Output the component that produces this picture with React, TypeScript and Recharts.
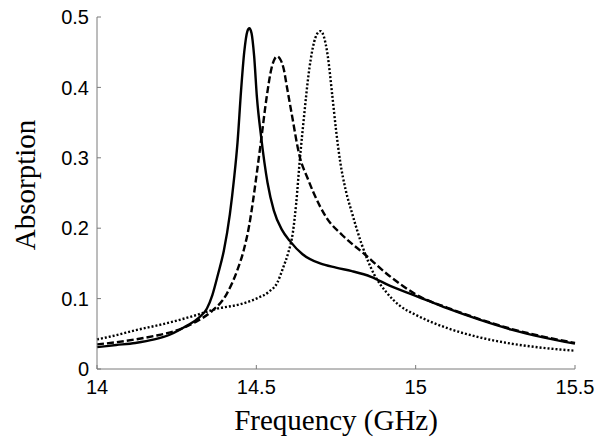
import { LineChart, Line, XAxis, YAxis, Label } from "recharts";

type Pt = { f: number; a: number };

const xTicks = [14, 14.5, 15, 15.5];
const yTicks = [0, 0.1, 0.2, 0.3, 0.4, 0.5];

// solid curve (frequency GHz, absorption)
const solidF = [14.0, 14.06, 14.12, 14.18, 14.23, 14.28, 14.32, 14.345, 14.362, 14.38, 14.398, 14.417, 14.43, 14.441, 14.452, 14.462, 14.472, 14.478, 14.485, 14.493, 14.502, 14.515, 14.535, 14.555, 14.58, 14.605, 14.645, 14.7, 14.75, 14.8, 14.86, 14.92, 15.0, 15.1, 15.2, 15.3, 15.4, 15.5];
const solidA = [0.031, 0.034, 0.037, 0.042, 0.049, 0.061, 0.073, 0.086, 0.105, 0.135, 0.168, 0.22, 0.27, 0.322, 0.395, 0.45, 0.48, 0.484, 0.477, 0.445, 0.385, 0.33, 0.265, 0.225, 0.198, 0.182, 0.163, 0.15, 0.144, 0.139, 0.131, 0.118, 0.104, 0.086, 0.07, 0.056, 0.045, 0.036];

// dashed curve
const dashF = [14.0, 14.06, 14.12, 14.18, 14.23, 14.28, 14.31, 14.36, 14.405, 14.44, 14.46, 14.478, 14.49, 14.502, 14.515, 14.532, 14.548, 14.558, 14.566, 14.575, 14.585, 14.597, 14.61, 14.637, 14.66, 14.68, 14.72, 14.77, 14.84, 14.91, 14.96, 15.0, 15.1, 15.2, 15.3, 15.4, 15.5];
const dashA = [0.035, 0.038, 0.042, 0.047, 0.052, 0.06, 0.067, 0.082, 0.105, 0.14, 0.168, 0.205, 0.24, 0.28, 0.325, 0.385, 0.428, 0.441, 0.444, 0.44, 0.428, 0.398, 0.365, 0.3, 0.272, 0.25, 0.215, 0.19, 0.163, 0.135, 0.118, 0.106, 0.087, 0.071, 0.057, 0.046, 0.037];

// dotted curve
const dotF = [14.0, 14.06, 14.12, 14.2, 14.3, 14.38, 14.45, 14.5, 14.54, 14.565, 14.585, 14.6, 14.615, 14.625, 14.637, 14.65, 14.663, 14.678, 14.692, 14.702, 14.712, 14.724, 14.738, 14.75, 14.763, 14.78, 14.8, 14.83, 14.87, 14.91, 14.95, 15.0, 15.1, 15.2, 15.3, 15.4, 15.5];
const dotA = [0.042, 0.048, 0.055, 0.063, 0.075, 0.086, 0.092, 0.1, 0.11, 0.122, 0.145, 0.165, 0.195, 0.235, 0.3, 0.36, 0.415, 0.458, 0.477, 0.48, 0.472, 0.445, 0.39, 0.34, 0.295, 0.255, 0.222, 0.178, 0.134, 0.108, 0.09, 0.077, 0.058, 0.045, 0.036, 0.03, 0.026];

const zip = (fs: number[], as: number[]): Pt[] => fs.map((f, i) => ({ f, a: as[i] }));

const solid = zip(solidF, solidA);
const dashed = zip(dashF, dashA);
const dotted = zip(dotF, dotA);

const axisColor = "#7a7a7a";
const tickFont = { fontSize: 20, fill: "#000", fontFamily: "'Liberation Sans', Arial, sans-serif" };
const titleFont = "'Liberation Serif', 'Times New Roman', serif";

export default function App() {
  return (
    <div style={{ position: "absolute", left: 0, top: 0, background: "#fff" }}>
      <LineChart width={611} height={440} margin={{ top: 17, right: 36, bottom: 0, left: 0 }}>
        <XAxis
          dataKey="f"
          type="number"
          domain={[14, 15.5]}
          ticks={xTicks}
          height={71}
          stroke={axisColor}
          tickSize={-4}
          tickMargin={15}
          tick={tickFont}
        >
          <Label
            content={() => (
              <text x={336} y={430} textAnchor="middle" fontSize={29} fontFamily={titleFont} fill="#000">
                Frequency (GHz)
              </text>
            )}
          />
        </XAxis>
        <YAxis
          type="number"
          domain={[0, 0.5]}
          ticks={yTicks}
          width={97}
          stroke={axisColor}
          tickSize={-4}
          tickMargin={12}
          tick={tickFont}
        >
          <Label
            content={() => (
              <text
                x={35}
                y={185}
                transform="rotate(-90, 35, 185)"
                textAnchor="middle"
                fontSize={29}
                fontFamily={titleFont}
                fill="#000"
              >
                Absorption
              </text>
            )}
          />
        </YAxis>
        <Line data={solid} dataKey="a" type="monotone" stroke="#000" strokeWidth={2.4} dot={false} isAnimationActive={false} />
        <Line data={dashed} dataKey="a" type="monotone" stroke="#000" strokeWidth={2.4} strokeDasharray="7 3" dot={false} isAnimationActive={false} />
        <Line data={dotted} dataKey="a" type="monotone" stroke="#000" strokeWidth={2.4} strokeDasharray="2 2" dot={false} isAnimationActive={false} />
      </LineChart>
    </div>
  );
}
